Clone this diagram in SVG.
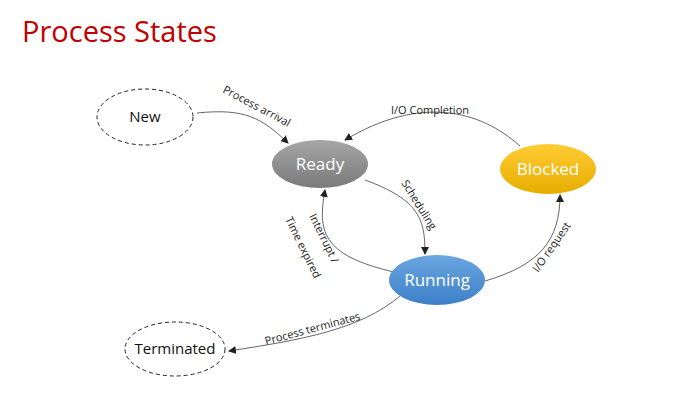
<svg xmlns="http://www.w3.org/2000/svg" width="680" height="403" viewBox="0 0 680 403">
<defs>
<marker id="ah" markerWidth="8" markerHeight="8" refX="7" refY="4" orient="auto" markerUnits="userSpaceOnUse"><path d="M0,0 L8,4 L0,8 z" fill="#222"/></marker>
<linearGradient id="gR" x1="0" y1="0" x2="0" y2="1"><stop offset="0" stop-color="#a6a6a6"/><stop offset="1" stop-color="#7a7a7a"/></linearGradient>
<linearGradient id="gB" x1="0" y1="0" x2="0" y2="1"><stop offset="0" stop-color="#ffcc33"/><stop offset="1" stop-color="#e6ac00"/></linearGradient>
<linearGradient id="gU" x1="0" y1="0" x2="0" y2="1"><stop offset="0" stop-color="#6aa6e0"/><stop offset="1" stop-color="#3d80c8"/></linearGradient>
</defs>
<style>
.lbl{font-family:"Open Sans","Liberation Sans",sans-serif;font-size:11px;fill:#222}
.ntx{font-family:"Open Sans","Liberation Sans",sans-serif;font-size:15px;fill:#111;text-anchor:middle}
.wtx{font-family:"Open Sans","Liberation Sans",sans-serif;font-size:17px;fill:#fff;text-anchor:middle}
.dash{fill:#fff;stroke:#222;stroke-width:1;stroke-dasharray:4 3}
.c{fill:none;stroke:#555;stroke-width:0.9;marker-end:url(#ah)}
</style>
<rect width="680" height="403" fill="#fff"/>
<text x="22" y="42" font-family="'Open Sans','Liberation Sans',sans-serif" font-size="29" fill="#c00000">Process States</text>
<g id="connectors">
<path class="c" d="M197,113 C245,108 262,118 288,143"/>
<path class="c" d="M520,146 C480,110 420,95 345,140"/>
<path class="c" d="M365,180 C420,200 425,220 425,254"/>
<path class="c" d="M394,272 C320,255 318,230 325,190"/>
<path class="c" d="M485,281 C540,265 560,240 560,195"/>
<path class="c" d="M400,296 C360,330 300,340 229,351"/>
<text class="lbl" transform="translate(222,92) rotate(28)">Process arrival</text>
<text class="lbl" x="391" y="114">I/O Completion</text>
<text class="lbl" transform="translate(401,183) rotate(58)">Scheduling</text>
<text class="lbl" transform="translate(309,216) rotate(64)">Interrupt /</text>
<text class="lbl" transform="translate(285,219) rotate(64)">Time expired</text>
<text class="lbl" transform="translate(538,273) rotate(-55)">I/O request</text>
<text class="lbl" transform="translate(266,345) rotate(-15)">Process terminates</text>
</g>
<g id="new"><ellipse class="dash" cx="145" cy="117" rx="48" ry="28"/><text class="ntx" x="145" y="122">New</text></g>
<g id="ready"><ellipse cx="320" cy="164" rx="48" ry="24" fill="url(#gR)"/><text class="wtx" x="320" y="170">Ready</text></g>
<g id="blocked"><ellipse cx="548" cy="169" rx="48" ry="25" fill="url(#gB)"/><text class="wtx" x="548" y="175">Blocked</text></g>
<g id="running"><ellipse cx="437" cy="280" rx="48" ry="25" fill="url(#gU)"/><text class="wtx" x="437" y="286">Running</text></g>
<g id="terminated"><ellipse class="dash" cx="175" cy="349" rx="50" ry="27"/><text class="ntx" x="175" y="354">Terminated</text></g>
</svg>
